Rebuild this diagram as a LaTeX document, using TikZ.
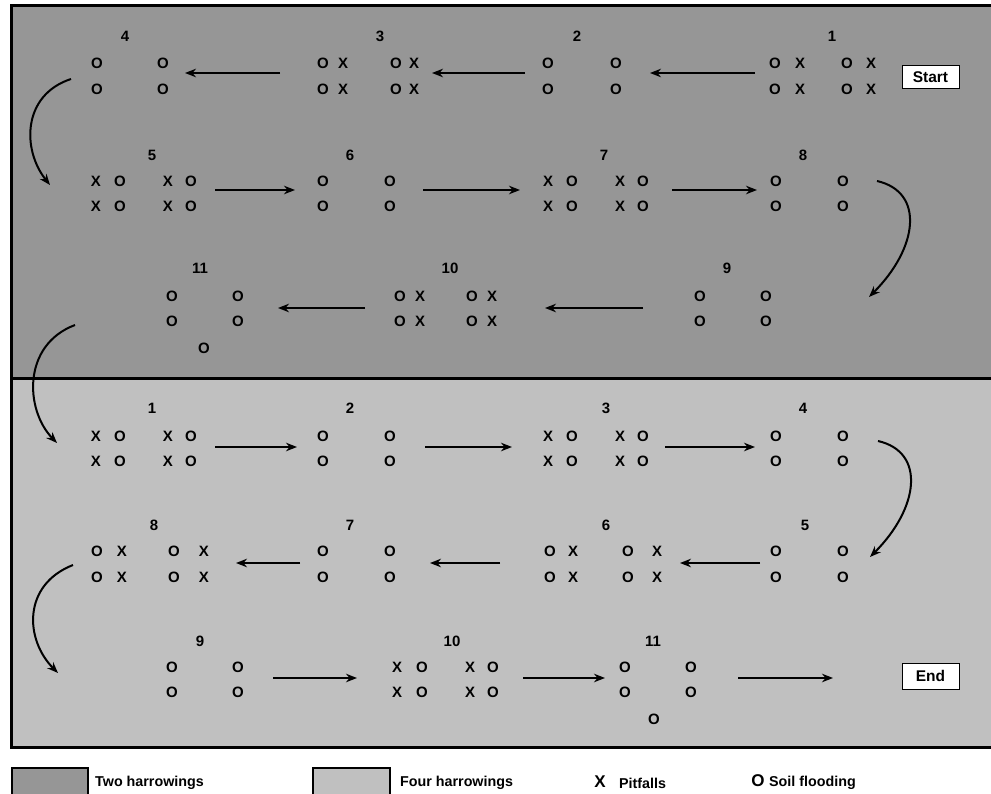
\documentclass[tikz,border=0pt]{standalone}
\usepackage{fontspec}
\setmainfont{Liberation Sans}
\usetikzlibrary{arrows.meta}
\definecolor{darkbg}{RGB}{150,150,150}
\definecolor{lightbg}{RGB}{192,192,192}
\tikzset{
  mk/.style={font=\bfseries\fontsize{15}{15}\selectfont, inner sep=0pt, anchor=center},
  lbl/.style={font=\bfseries\fontsize{15}{15}\selectfont, inner sep=0pt, anchor=center},
  arr/.style={line width=2pt, -{Stealth[length=11pt,width=8.5pt]}},
  tagbox/.style={draw=black, line width=1pt, fill=white, minimum width=57pt, minimum height=23pt, inner sep=0pt, font=\bfseries\fontsize{15.5}{15.5}\selectfont},
  legtxt/.style={font=\bfseries\fontsize{14.3}{14.3}\selectfont, inner sep=0pt, anchor=west},
  legbox/.style={draw=black, line width=2.5pt},
  frame/.style={line width=3pt}
}
\newcommand\grp[7]{%
  \node[lbl] (#1) at (#3,#4) {#2};
  \foreach \x/\c [count=\i] in {#7} {%
    \node[mk] (#1-a\i) at (\x,#5) {\c};
    \node[mk] (#1-b\i) at (\x,#6) {\c};
  }%
}
\begin{document}
\begin{tikzpicture}[x=1pt,y=-1pt]
\useasboundingbox (0,0) rectangle (991,794);
% background panels
\fill[darkbg] (11.5,6) rectangle (1000,378.5);
\fill[lightbg] (11.5,378.5) rectangle (1000,747);
\draw[frame] (1000,6) -- (11.5,6) -- (11.5,747) -- (1000,747);
\draw[frame] (11.5,378.5) -- (1000,378.5);

% ---------- top section (two harrowings) ----------
\grp{t4}{4}{125}{36}{63}{89}{97/O,163/O}
\grp{t3}{3}{380}{36}{63}{89}{323/O,343/X,396/O,414/X}
\grp{t2}{2}{577}{36}{63}{89}{548/O,616/O}
\grp{t1}{1}{832}{36}{63}{89}{775/O,800/X,847/O,871/X}
\node[tagbox] (start) at (930.5,77.5) {Start};

\grp{t5}{5}{152}{155}{181}{206}{96/X,120/O,168/X,191/O}
\grp{t6}{6}{350}{155}{181}{206}{323/O,390/O}
\grp{t7}{7}{604}{155}{181}{206}{548/X,572/O,620/X,643/O}
\grp{t8}{8}{803}{155}{181}{206}{776/O,843/O}

\grp{t11}{11}{200}{268}{296}{321}{172/O,238/O}
\node[mk] (t11-c) at (204,348) {O};
\grp{t10}{10}{450}{268}{296}{321}{400/O,420/X,472/O,492/X}
\grp{t9}{9}{727}{268}{296}{321}{700/O,766/O}

\coordinate (a1s) at (755,73); \coordinate (a1e) at (650,73);
\coordinate (a2s) at (525,73); \coordinate (a2e) at (432,73);
\coordinate (a3s) at (280,73); \coordinate (a3e) at (185,73);
\draw[arr] (a1s) -- (a1e);
\draw[arr] (a2s) -- (a2e);
\draw[arr] (a3s) -- (a3e);
\coordinate (c0s) at (71,79); \coordinate (c0e) at (50,185);
\draw[arr] (c0s) .. controls (22,95) and (22,150) .. (c0e);

\coordinate (b1s) at (215,190); \coordinate (b1e) at (295,190);
\coordinate (b2s) at (423,190); \coordinate (b2e) at (520,190);
\coordinate (b3s) at (672,190); \coordinate (b3e) at (757,190);
\draw[arr] (b1s) -- (b1e);
\draw[arr] (b2s) -- (b2e);
\draw[arr] (b3s) -- (b3e);
\coordinate (c2s) at (877,181); \coordinate (c2e) at (869,297);
\draw[arr] (c2s) .. controls (925,192) and (918,248) .. (c2e);

\coordinate (d1s) at (643,308); \coordinate (d1e) at (545,308);
\coordinate (d2s) at (365,308); \coordinate (d2e) at (278,308);
\draw[arr] (d1s) -- (d1e);
\draw[arr] (d2s) -- (d2e);
\coordinate (c1s) at (75,325); \coordinate (c1e) at (57,443);
\draw[arr] (c1s) .. controls (22,345) and (25,410) .. (c1e);

% ---------- bottom section (four harrowings) ----------
\grp{b1}{1}{152}{408}{436}{461}{96/X,120/O,168/X,191/O}
\grp{b2}{2}{350}{408}{436}{461}{323/O,390/O}
\grp{b3}{3}{606}{408}{436}{461}{548/X,572/O,620/X,643/O}
\grp{b4}{4}{803}{408}{436}{461}{776/O,843/O}

\coordinate (e1s) at (215,447); \coordinate (e1e) at (297,447);
\coordinate (e2s) at (425,447); \coordinate (e2e) at (512,447);
\coordinate (e3s) at (665,447); \coordinate (e3e) at (755,447);
\draw[arr] (e1s) -- (e1e);
\draw[arr] (e2s) -- (e2e);
\draw[arr] (e3s) -- (e3e);
\coordinate (c3s) at (878,441); \coordinate (c3e) at (870,557);
\draw[arr] (c3s) .. controls (926,452) and (919,508) .. (c3e);

\grp{b8}{8}{154}{525}{551}{577}{97/O,122/X,174/O,204/X}
\grp{b7}{7}{350}{525}{551}{577}{323/O,390/O}
\grp{b6}{6}{606}{525}{551}{577}{550/O,573/X,628/O,657/X}
\grp{b5}{5}{805}{525}{551}{577}{776/O,843/O}

\coordinate (f1s) at (760,563); \coordinate (f1e) at (680,563);
\coordinate (f2s) at (500,563); \coordinate (f2e) at (430,563);
\coordinate (f3s) at (300,563); \coordinate (f3e) at (236,563);
\draw[arr] (f1s) -- (f1e);
\draw[arr] (f2s) -- (f2e);
\draw[arr] (f3s) -- (f3e);
\coordinate (c4s) at (73,565); \coordinate (c4e) at (58,673);
\draw[arr] (c4s) .. controls (22,585) and (25,640) .. (c4e);

\grp{b9}{9}{200}{641}{667}{692}{172/O,238/O}
\grp{b10}{10}{452}{641}{667}{692}{397/X,422/O,470/X,493/O}
\grp{b11}{11}{653}{641}{667}{692}{625/O,691/O}
\node[mk] (b11-c) at (654,719) {O};
\node[tagbox, minimum height=26pt] (end) at (930.5,676) {End};

\coordinate (g1s) at (273,678); \coordinate (g1e) at (357,678);
\coordinate (g2s) at (523,678); \coordinate (g2e) at (605,678);
\coordinate (g3s) at (738,678); \coordinate (g3e) at (833,678);
\draw[arr] (g1s) -- (g1e);
\draw[arr] (g2s) -- (g2e);
\draw[arr] (g3s) -- (g3e);

% ---------- legend ----------
\draw[legbox, fill=darkbg] (12,800) -- (12,768) -- (88,768) -- (88,800);
\node[legtxt] (leg1) at (95,783) {Two harrowings};
\draw[legbox, fill=lightbg] (313,800) -- (313,768) -- (390,768) -- (390,800);
\node[legtxt] (leg2) at (400,783) {Four harrowings};
\node[mk, font=\bfseries\fontsize{17}{17}\selectfont] (legx) at (600,782) {X};
\node[legtxt] (leg3) at (619,783) {Pitfalls};
\node[mk, font=\bfseries\fontsize{17}{17}\selectfont] (lego) at (758,781) {O};
\node[legtxt] (leg4) at (769,783) {Soil flooding};
\end{tikzpicture}
\end{document}
